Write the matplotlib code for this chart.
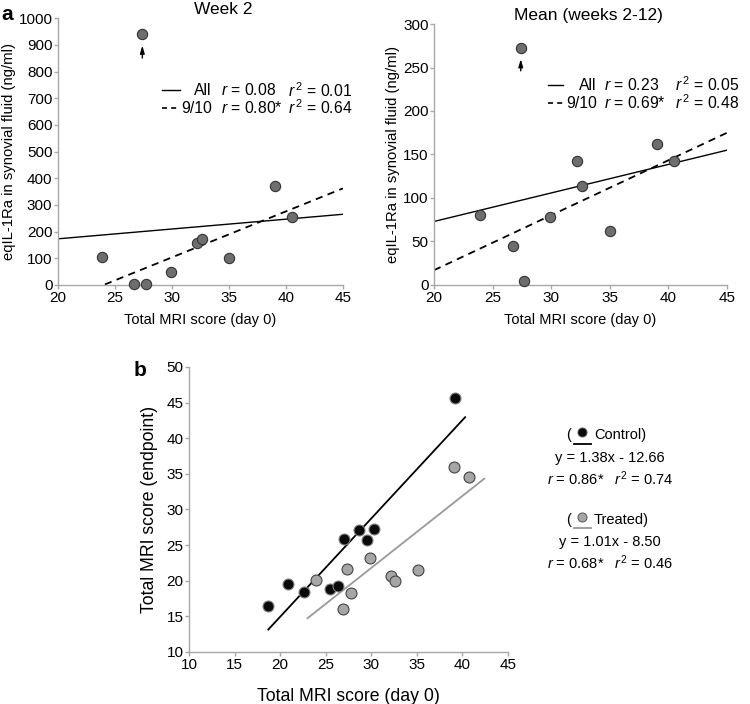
import matplotlib
matplotlib.use("Agg")
import matplotlib.pyplot as plt
from matplotlib.lines import Line2D
import numpy as np

plt.rcParams['font.family'] = ['Liberation Sans', 'DejaVu Sans']
plt.rcParams['mathtext.fontset'] = 'custom'
plt.rcParams['mathtext.rm'] = 'Liberation Sans'
plt.rcParams['mathtext.it'] = 'Liberation Sans:italic'

# panel a: day-0 MRI score vs eqIL-1Ra (last point = outlier, marked with arrow)
mri_day0 = [23.9, 26.7, 27.7, 29.9, 32.2, 32.6, 35.0, 39.0, 40.5, 27.4]
il_week2 = [105, 3, 5, 47, 158, 172, 100, 372, 255, 940]
il_mean = [80, 45, 4, 78, 142, 114, 62, 162, 142, 272]

# regression lines (slope, intercept)
week2_all = (3.68, 99.4)
week2_910 = (17.24, -413.7)
mean_all = (3.28, 7.4)
mean_910 = (6.32, -109.4)

# panel b: control / treated
ctrl_x = [18.7, 20.9, 22.6, 25.5, 26.4, 27.0, 28.7, 29.5, 30.3, 39.2]
ctrl_y = [16.5, 19.6, 18.4, 18.8, 19.2, 25.9, 27.1, 25.7, 27.2, 45.6]
trt_x = [23.9, 26.9, 27.3, 27.8, 29.9, 32.2, 32.6, 35.1, 39.1, 40.7]
trt_y = [20.1, 16.1, 21.6, 18.3, 23.2, 20.6, 19.9, 21.5, 35.9, 34.6]
ctrl_fit = (1.38, -12.66)
trt_fit = (1.01, -8.50)
ctrl_span = (18.7, 40.3)
trt_span = (23.0, 42.4)

spine_col = '#a8a8a8'


def style(ax, fs):
    for s in ['top', 'right']:
        ax.spines[s].set_visible(False)
    for s in ['left', 'bottom']:
        ax.spines[s].set_color(spine_col)
        ax.spines[s].set_linewidth(1.0)
    ax.tick_params(colors=spine_col, labelcolor='black', labelsize=fs,
                   length=3, width=1.0, pad=1)


fig = plt.figure(figsize=(7.5, 7.04), dpi=100)

# rect, y values, fits, ymax, step, title, title x, stats, key layout
panels = [
    ([0.0773, 0.5952, 0.380, 0.379], il_week2, week2_all, week2_910, 1000, 100,
     'Week 2', 0.58, ('0.08', '0.01', '0.80*', '0.64'),
     (0.365, 0.428, 0.540, 0.572, 0.806, 0.730, 0.663)),
    ([0.5787, 0.5952, 0.3907, 0.3707], il_mean, mean_all, mean_910, 300, 50,
     'Mean (weeks 2-12)', 0.526, ('0.23', '0.05', '0.69*', '0.48'),
     (0.389, 0.440, 0.556, 0.581, 0.822, 0.766, 0.697)),
]

for rect, yv, fit_all, fit_910, ymax, ystep, title, tx_, stats, key in panels:
    ax = fig.add_axes(rect)
    style(ax, 11)
    ax.set_xlim(20, 45)
    ax.set_ylim(0, ymax)
    ax.set_xticks(range(20, 46, 5))
    ax.set_yticks(range(0, ymax + 1, ystep))
    xx = np.array([20, 45])
    ax.plot(xx, fit_all[0] * xx + fit_all[1], color='black', lw=1.0)
    ax.plot(xx, fit_910[0] * xx + fit_910[1], color='black', lw=1.3,
            ls=(0, (4, 3)))
    ax.scatter(mri_day0, yv, s=55, color='#6e6e6e', edgecolor='#333333',
               linewidth=0.8, zorder=3, clip_on=False)
    # arrow under the outlier
    ax.annotate('', xy=(mri_day0[-1], yv[-1] * 0.955),
                xytext=(mri_day0[-1], yv[-1] * 0.905),
                arrowprops=dict(arrowstyle='-|>,head_length=0.45,head_width=0.13',
                                color='black', lw=1.0, shrinkA=0, shrinkB=0))
    ax.set_title(title, fontsize=12.5, pad=3, x=tx_)
    ax.set_xlabel('Total MRI score (day 0)', fontsize=10.5, labelpad=6)
    ax.set_ylabel('eqIL-1Ra in synovial fluid (ng/ml)', fontsize=10.7, labelpad=2)
    # key: line handles + three text columns
    h0, h1, c_lab, c_r, c_r2, y1, y2 = key
    ax.plot([h0, h1], [y1, y1], color='black', lw=1.0, transform=ax.transAxes)
    ax.plot([h0, h1], [y2, y2], color='black', lw=1.2, ls=(0, (3, 2.5)),
            transform=ax.transAxes)
    kf = 11.3
    ax.text(c_lab, y1, 'All', fontsize=kf, va='center', ha='right',
            transform=ax.transAxes)
    ax.text(c_lab, y2, '9/10', fontsize=kf, va='center', ha='right',
            transform=ax.transAxes)
    ax.text(c_r, y1, r'$r$ = %s' % stats[0], fontsize=kf, va='center',
            transform=ax.transAxes)
    ax.text(c_r, y2, r'$r$ = %s' % stats[2], fontsize=kf, va='center',
            transform=ax.transAxes)
    ax.text(c_r2, y1, r'$r^{\,2}$ = %s' % stats[1], fontsize=kf, va='center',
            transform=ax.transAxes)
    ax.text(c_r2, y2, r'$r^{\,2}$ = %s' % stats[3], fontsize=kf, va='center',
            transform=ax.transAxes)

fig.text(0.002, 0.972, 'a', fontsize=15, fontweight='bold')

# panel b
axb = fig.add_axes([0.252, 0.0739, 0.4253, 0.4048])
style(axb, 11)
axb.set_xlim(10, 45)
axb.set_ylim(10, 50)
axb.set_xticks(range(10, 46, 5))
axb.set_yticks(range(10, 51, 5))
cx = np.array(ctrl_span)
tx = np.array(trt_span)
axb.plot(cx, ctrl_fit[0] * cx + ctrl_fit[1], color='black', lw=1.3)
axb.plot(tx, trt_fit[0] * tx + trt_fit[1], color='#999999', lw=1.3)
axb.scatter(ctrl_x, ctrl_y, s=62, color='#0a0a0a', edgecolor='#808080',
            linewidth=0.8, zorder=3)
axb.scatter(trt_x, trt_y, s=62, color='#a6a6a6', edgecolor='#444444',
            linewidth=0.8, zorder=3)
axb.set_xlabel('Total MRI score (day 0)', fontsize=12.7, labelpad=12)
axb.set_ylabel('Total MRI score (endpoint)', fontsize=12.7, labelpad=6)
fig.text(0.178, 0.466, 'b', fontsize=15, fontweight='bold')

# panel b key
fs = 10.5
for y0, name, mcol, lcol, fitv, rr, r2 in [
        (0.382, 'Control', '#0a0a0a', 'black', ctrl_fit, '0.86*', '0.74'),
        (0.262, 'Treated', '#a6a6a6', '#999999', trt_fit, '0.68*', '0.46')]:
    fig.text(0.758, y0, '(', fontsize=fs, ha='center', va='center')
    fig.text(0.792, y0, name + ')', fontsize=fs, ha='left', va='center')
    fig.add_artist(Line2D([0.765, 0.788], [y0 - 0.012, y0 - 0.012],
                          color=lcol, lw=1.3, transform=fig.transFigure))
    fig.add_artist(Line2D([0.776], [y0 + 0.004], marker='o', markersize=6.5,
                          color=mcol, markeredgecolor='#555555',
                          markeredgewidth=0.7, transform=fig.transFigure))
    fig.text(0.813, y0 - 0.032, 'y = %.2fx - %.2f' % (fitv[0], -fitv[1]),
             fontsize=fs, ha='center', va='center')
    fig.text(0.813, y0 - 0.062, r'$r$ = %s   $r^{2}$ = %s' % (rr, r2),
             fontsize=fs, ha='center', va='center')

fig.savefig('out.png', dpi=100)
